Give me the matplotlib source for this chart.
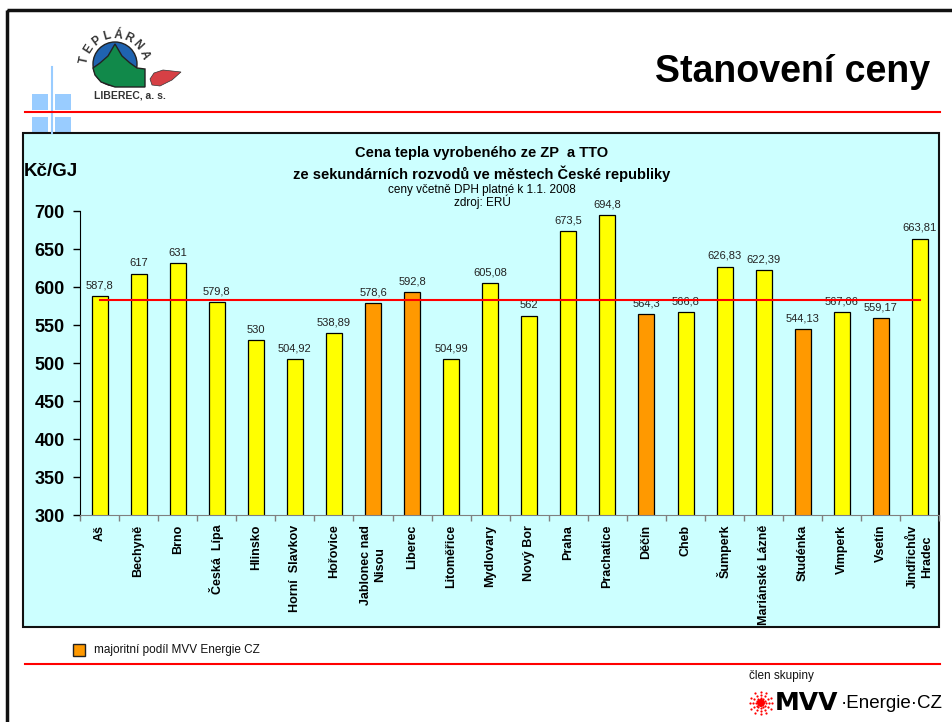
import numpy as np
import matplotlib
matplotlib.use("Agg")
import matplotlib.pyplot as plt
from matplotlib.patches import Rectangle, Circle, Polygon

plt.rcParams['font.family'] = ['Liberation Sans', 'DejaVu Sans']

# ---------------- data ----------------
cities = ["Aš", "Bechyně", "Brno", "Česká  Lípa", "Hlinsko", "Horní  Slavkov",
          "Hořovice", "Jablonec nad\nNisou", "Liberec", "Litoměřice", "Mydlovary",
          "Nový Bor", "Praha", "Prachatice", "Děčín", "Cheb", "Šumperk",
          "Mariánské Lázně", "Studénka", "Vimperk", "Vsetín", "Jindřichův\nHradec"]
prices = [587.8, 617, 631, 579.8, 530, 504.92, 538.89, 578.6, 592.8, 504.99, 605.08,
          562, 673.5, 694.8, 564.3, 566.8, 626.83, 622.39, 544.13, 567.06, 559.17, 663.81]
mvv_majority = [False, False, False, False, False, False, False, True, True, False, False,
                False, False, False, True, False, False, False, True, False, True, False]
average_price = 583
yticks = [300, 350, 400, 450, 500, 550, 600, 650, 700]

YELLOW = "#FFFF00"
ORANGE = "#FF9900"
PANEL = "#CCFFFF"
RED = "#FF0000"

W, H = 953, 722
fig = plt.figure(figsize=(W / 100, H / 100), dpi=100)

# background / decoration axes in pixel coordinates
bg = fig.add_axes([0, 0, 1, 1])
bg.set_xlim(0, W)
bg.set_ylim(H, 0)
bg.axis('off')

# outer slide border
bg.add_patch(Rectangle((7, 10), 1000, 800, fill=False, lw=2.5, edgecolor='#111111'))

# light blue squares decoration
for (sx, sy) in [(32, 94), (55, 94), (32, 117), (55, 117)]:
    bg.add_patch(Rectangle((sx, sy), 16, 16, color='#99CCFF', lw=0))
bg.plot([52, 52], [67, 133], color='#99CCFF', lw=1.5)

# top red line
bg.plot([25, 940], [111.5, 111.5], color=RED, lw=1.5)

# Teplárna logo
bg.add_patch(Circle((115, 64), 22, facecolor='#1F63B0', edgecolor='#222222', lw=1))
green = [(93, 68), (100, 63), (108, 56), (115, 44), (122, 56), (130, 63), (137, 68),
         (145, 69), (145, 87), (115, 87), (101, 82), (95, 75)]
bg.add_patch(Polygon(green, closed=True, facecolor='#11894A', edgecolor='#222222', lw=1))
drop = [(150, 79), (154, 73), (163, 70), (181, 72), (172, 80), (160, 86), (152, 85)]
bg.add_patch(Polygon(drop, closed=True, facecolor='#D64045', edgecolor='#333333', lw=0.5))
letters = "TEPLÁRNA"
cx, cy, R = 115, 66, 31
angles = np.linspace(168, 22, len(letters))
for ch, th in zip(letters, angles):
    t = np.deg2rad(th)
    bg.text(cx + R * np.cos(t), cy - R * np.sin(t), ch, rotation=th - 90,
            ha='center', va='center', fontsize=8.5, fontweight='bold', color='#333333')
bg.text(130, 96, "LIBEREC, a. s.", ha='center', va='center', fontsize=7.5,
        fontweight='bold', color='#333333')

# slide title
bg.text(930, 72, "Stanovení ceny", ha='right', va='center', fontsize=27,
        fontweight='bold', color='black')

# chart panel
bg.add_patch(Rectangle((23, 133), 916, 494, facecolor=PANEL, edgecolor='#111111', lw=1.5))

# chart titles
bg.text(482, 153, "Cena tepla vyrobeného ze ZP  a TTO", ha='center', va='center',
        fontsize=10.5, fontweight='bold')
bg.text(482, 174, "ze sekundárních rozvodů ve městech České republiky", ha='center',
        va='center', fontsize=10.5, fontweight='bold')
bg.text(482, 189.5, "ceny včetně DPH platné k 1.1. 2008", ha='center', va='center',
        fontsize=8.5)
bg.text(482, 202, "zdroj: ERÚ", ha='center', va='center', fontsize=8.5)
bg.text(24, 172, "Kč/GJ", ha='left', va='center', fontsize=13.5, fontweight='bold')

# legend
bg.add_patch(Rectangle((73, 644), 12, 12, facecolor=ORANGE, edgecolor='#222222', lw=1))
bg.text(94, 650, "majoritní podíl MVV Energie CZ", ha='left', va='center', fontsize=8.5,
        color='#111111')

# bottom red line
bg.plot([25, 940], [663.5, 663.5], color=RED, lw=1.5)

# MVV logo
bg.text(749, 676, "člen skupiny", ha='left', va='center', fontsize=8.5, color='#111111')
scx, scy = 761, 703
for a in np.arange(0, 360, 30):
    t = np.deg2rad(a)
    xs = scx + np.array([5, 8, 11]) * np.cos(t)
    ys = scy + np.array([5, 8, 11]) * np.sin(t)
    bg.plot(xs, ys, 'o', color=RED, ms=1.6, mew=0)
bg.add_patch(Circle((scx, scy), 4, color=RED, lw=0))
bg.text(775, 703, "MVV", ha='left', va='center', fontsize=18, fontweight='heavy',
        family='DejaVu Sans', color='black')
bg.text(841, 704, "·Energie·CZ", ha='left', va='center', fontsize=13.5,
        color='black')

# ---------------- chart ----------------
ax = fig.add_axes([80 / W, 1 - 515 / H, (939.5 - 80) / W, 304 / H])
ax.set_facecolor('none')
x = np.arange(len(cities))
colors = [ORANGE if m else YELLOW for m in mvv_majority]
ax.bar(x, prices, width=0.41, color=colors, edgecolor='black', lw=0.9, zorder=2)
for xi, v in zip(x, prices):
    ax.annotate(f"{v:g}".replace('.', ','), (xi, v), xytext=(0, 5.5),
                textcoords='offset points', ha='center', va='baseline', fontsize=8,
                color='#222222')
ax.plot([x[0], x[-1]], [average_price, average_price], color=RED, lw=1.5, zorder=3)

ax.set_xlim(-0.5, len(cities) - 0.5)
ax.set_ylim(yticks[0], yticks[-1])
ax.set_yticks(yticks)
ax.set_yticklabels([str(t) for t in yticks], fontsize=13, fontweight='bold')
ax.tick_params(axis='y', length=5, width=1, pad=6, color='black')
ax.set_xticks(x)
ax.set_xticklabels(cities, rotation=90, fontsize=9, fontweight='bold',
                   ha='center', va='top', multialignment='center')
ax.tick_params(axis='x', which='major', length=0, pad=7)
ax.set_xticks(np.arange(-0.5, len(cities), 1), minor=True)
ax.tick_params(axis='x', which='minor', length=4, color='#808080', width=1)
for s in ['top', 'right']:
    ax.spines[s].set_visible(False)
ax.spines['left'].set_color('black')
ax.spines['bottom'].set_color('#808080')

fig.savefig("out.png", dpi=100)
